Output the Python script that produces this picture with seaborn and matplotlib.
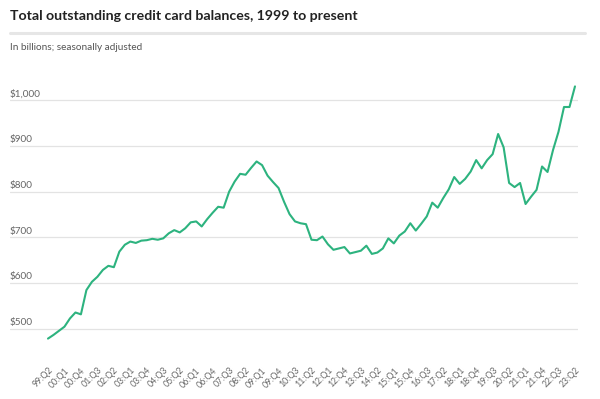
import matplotlib
matplotlib.use("Agg")
import matplotlib.pyplot as plt
import matplotlib.transforms as mtransforms
import seaborn as sns
import pandas as pd

# quarterly credit card balances, 99:Q2 .. 23:Q2 (billions)
quarters = [f"{y % 100:02d}:Q{q}" for y in range(1999, 2024) for q in range(1, 5)][1:-2]
balances = [
    479, 487, 496, 505, 523, 536, 532, 585, 603, 614,
    629, 638, 635, 669, 684, 691, 688, 693, 694, 697,
    695, 698, 709, 716, 711, 720, 733, 735, 724, 740,
    754, 767, 765, 800, 822, 839, 837, 852, 866, 858,
    835, 821, 808, 778, 751, 735, 731, 729, 695, 694,
    702, 685, 673, 676, 679, 665, 668, 671, 682, 664,
    667, 676, 698, 687, 704, 713, 731, 715, 730, 746,
    776, 765, 786, 805, 832, 817, 828, 844, 869, 851,
    869, 882, 926, 897, 819, 810, 819, 773, 789, 804,
    855, 843, 891, 931, 985, 985, 1030,
]
y_ticks = [500, 600, 700, 800, 900, 1000]
y_labels = ["$500", "$600", "$700", "$800", "$900", "$1,000"]

df = pd.DataFrame({"quarter": quarters, "balance": balances})
df["pos"] = range(len(df))

sns.set_style("white")
plt.rcParams["font.family"] = ["Lato", "DejaVu Sans"]

fig = plt.figure(figsize=(6, 3.99), dpi=100)
ax = fig.add_axes([10 / 600, 54 / 399, 568 / 600, 265 / 399])

sns.lineplot(data=df, x="pos", y="balance", color="#2db37f", linewidth=1.5, ax=ax)

ax.set_xlim(-6.92, 96.55)
ax.set_ylim(465, 1044)

for v in y_ticks:
    ax.axhline(v, color="#e3e3e3", linewidth=0.9, zorder=0)
ax.set_yticks([])
trans = mtransforms.blended_transform_factory(ax.transAxes, ax.transData)
for v, lab in zip(y_ticks, y_labels):
    ax.text(0, v + 4, lab, transform=trans, ha="left", va="bottom",
            fontsize=7.2, color="#666666")

tick_pos = list(range(0, len(quarters), 3))
ax.set_xticks(tick_pos)
ax.set_xticklabels([quarters[i] for i in tick_pos], rotation=45, ha="right",
                   rotation_mode="anchor", fontsize=6.3, color="#666666")
ax.tick_params(axis="x", length=0, pad=15)
ax.set_xlabel("")
ax.set_ylabel("")
sns.despine(ax=ax, left=True, bottom=True, top=True, right=True)

fig.text(10 / 600, 1 - 16 / 399, "Total outstanding credit card balances, 1999 to present",
         ha="left", va="center", fontsize=10.2, fontweight="bold", color="#222222")
fig.add_artist(plt.Line2D([10 / 600, 585 / 600], [1 - 33 / 399, 1 - 33 / 399],
                          color="#e6e6e6", linewidth=2.2))
fig.text(10 / 600, 1 - 48 / 399, "In billions; seasonally adjusted",
         ha="left", va="center", fontsize=7.2, color="#555555")

fig.savefig("out.png", dpi=100)
